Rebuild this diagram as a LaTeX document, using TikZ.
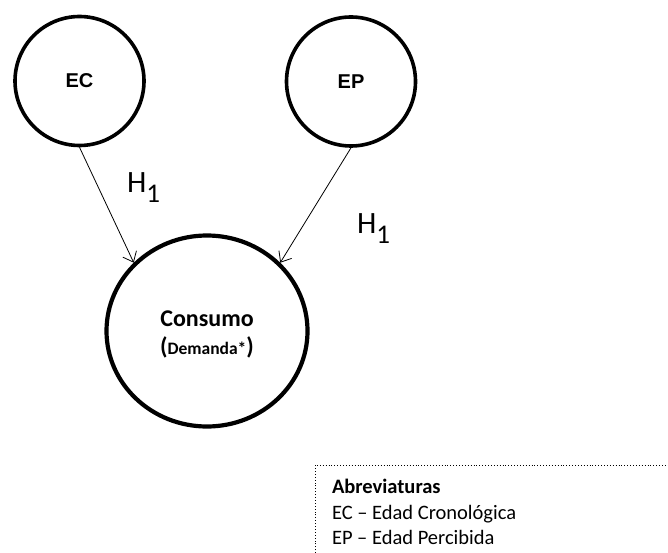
\documentclass[tikz,border=0pt]{standalone}
\usepackage{fontspec}
\setmainfont{Carlito}
\newfontfamily\arialfont{Liberation Sans}
\newfontfamily\calfont{Carlito}
\usetikzlibrary{arrows.meta,shapes.geometric}

\tikzset{
  construct/.style={circle, draw, line width=3.6pt, minimum size=129pt, inner sep=0pt,
    font=\arialfont\bfseries\fontsize{20}{20}\selectfont},
  outcome/.style={ellipse, draw, line width=4.2pt, minimum width=201pt, minimum height=191pt, inner sep=0pt},
  link/.style={line width=0.8pt, -{Straight Barb[length=9pt,width=15pt,line width=0.8pt]}},
  plain/.style={inner sep=0pt, outer sep=0pt, anchor=base west},
  hyp/.style={plain, font=\calfont\fontsize{31}{31}\selectfont},
  legendtxt/.style={plain, font=\calfont\fontsize{20.5}{25}\selectfont},
}

\newcommand{\hypsub}{H\raisebox{-10pt}{\fontsize{27}{27}\selectfont 1}}

\begin{document}
\begin{tikzpicture}[x=1pt, y=-1pt]
  \useasboundingbox (0,0) rectangle (668,553);

  % constructs
  \node[construct] (ec) at (79.5,81) {EC};
  \node[construct] (ep) at (351,81.5) {EP};
  \node[outcome] (cons) at (207,331) {};

  % label of the outcome
  \node[inner sep=0pt, anchor=base, font=\calfont\bfseries\fontsize{24}{24}\selectfont] (consA) at (207,326) {Consumo};
  \node[inner sep=0pt, anchor=base, font=\calfont\bfseries] (consB) at (207,354)
    {\fontsize{24}{24}\selectfont(\fontsize{17.5}{17.5}\selectfont Demanda*\fontsize{24}{24}\selectfont)};

  % hypothesised effects
  \draw[link] (ec.south) -- (cons.137);
  \draw[link] (ep.south) -- (cons.43);

  \node[hyp] (h1a) at (127,193) {\hypsub};
  \node[hyp] (h1b) at (357,233) {\hypsub};

  % abbreviations panel
  \coordinate (boxBL) at (315,553);
  \coordinate (boxTL) at (315,465);
  \coordinate (boxTR) at (668,465);
  \draw[dotted, line width=0.9pt] (boxBL) -- (boxTL) -- (boxTR);

  \node[legendtxt, font=\calfont\bfseries\fontsize{20.5}{25}\selectfont] (leg0) at (332,493) {Abreviaturas};
  \node[legendtxt] (leg1) at (332,519) {EC – Edad Cronológica};
  \node[legendtxt] (leg2) at (332,544) {EP – Edad Percibida};
\end{tikzpicture}
\end{document}
